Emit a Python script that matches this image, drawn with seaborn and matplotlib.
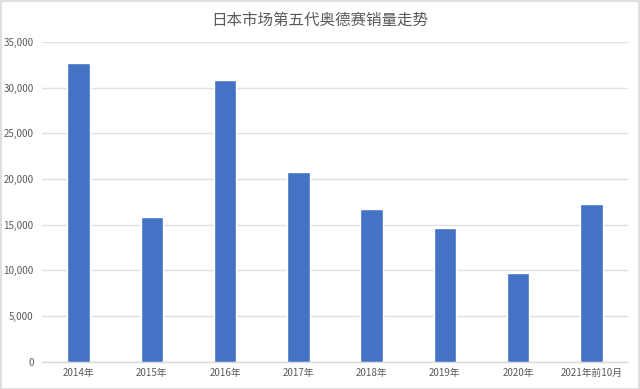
import matplotlib
matplotlib.use("Agg")
import matplotlib.pyplot as plt
import seaborn as sns
import pandas as pd
from matplotlib.ticker import FuncFormatter, MultipleLocator
from matplotlib.patches import Rectangle

categories = ["2014年", "2015年", "2016年", "2017年", "2018年", "2019年", "2020年", "2021年前10月"]
sales = [32660, 15800, 30830, 20790, 16670, 14650, 9730, 17200]
title = "日本市场第五代奥德赛销量走势"

sns.set_theme(style="white")
plt.rcParams["font.family"] = ["Noto Sans CJK SC", "DejaVu Sans"]

df = pd.DataFrame({"year": categories, "sales": sales})

fig = plt.figure(figsize=(6.4, 3.89), dpi=100)
ax = fig.add_axes([42/640, 1 - 361.5/389, (628-42)/640, (361.5-42)/389])

sns.barplot(data=df, x="year", y="sales", color="#4472C4", saturation=1,
            width=0.31, ax=ax, zorder=3)

ax.set_ylim(0, 35000)
ax.set_xlim(-0.5, len(categories) - 0.5)
ax.yaxis.set_major_locator(MultipleLocator(5000))
ax.yaxis.set_major_formatter(FuncFormatter(lambda v, p: f"{int(v):,}"))
ax.grid(axis="y", color="#E0E0E0", linewidth=1, zorder=0)
ax.set_axisbelow(True)
for s in ["top", "right", "left"]:
    ax.spines[s].set_visible(False)
ax.spines["bottom"].set_color("#D9D9D9")
ax.spines["bottom"].set_linewidth(1)
ax.set_xlabel("")
ax.set_ylabel("")
ax.tick_params(axis="both", length=0, labelsize=7, labelcolor="#595959")
ax.tick_params(axis="y", pad=6)
ax.tick_params(axis="x", pad=5)

fig.text(0.5, 1 - 20/389, title, ha="center", va="center", fontsize=11.2, color="#595959")

fig.patches.append(Rectangle((0.5/640, 0.5/389), 1 - 1.5/640, 1 - 1.5/389,
                             transform=fig.transFigure, fill=False,
                             edgecolor="#D9D9D9", linewidth=1.2))

fig.savefig("out.png", dpi=100)
